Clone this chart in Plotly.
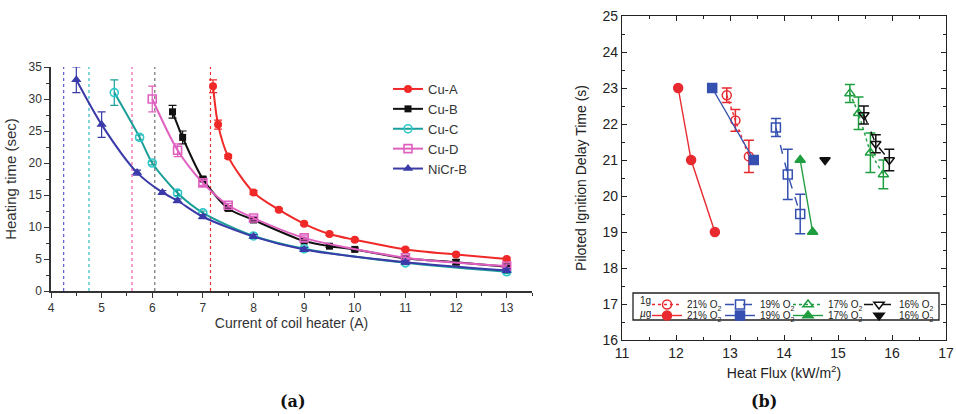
import plotly.graph_objects as go

# ---------------- Data: panel (a) ----------------
cuA_x = [7.2, 7.3, 7.5, 8, 8.5, 9, 9.5, 10, 11, 12, 13]
cuA_y = [32, 26, 21, 15.4, 12.7, 10.5, 8.9, 8.0, 6.5, 5.7, 5.0]
cuA_err = [1, 0.7, 0.3, 0.3, 0.2, 0.2, 0.2, 0.2, 0.2, 0.2, 0.2]

cuB_x = [6.4, 6.6, 7, 7.5, 8, 9, 9.5, 10, 11, 12, 13]
cuB_y = [28, 24, 17.5, 12.9, 11.1, 7.8, 7.0, 6.5, 5.1, 4.5, 3.8]
cuB_err = [1, 1, 0.3, 0.3, 0.3, 0.2, 0.2, 0.2, 0.2, 0.4, 0.2]

cuC_x = [5.25, 5.75, 6, 6.5, 7, 8, 9, 11, 13]
cuC_y = [31, 24, 20, 15.3, 12.2, 8.6, 6.6, 4.4, 3.0]
cuC_err = [2, 0.4, 0.3, 0.4, 0.3, 0.3, 0.3, 0.3, 0.3]

cuD_x = [6, 6.5, 7, 7.5, 8, 9, 11, 13]
cuD_y = [30, 22, 16.9, 13.4, 11.4, 8.3, 5.2, 3.9]
cuD_err = [2, 1, 0.4, 0.3, 0.3, 0.3, 0.3, 0.3]

nicr_x = [4.5, 5, 5.7, 6.2, 6.5, 7, 8, 9, 11, 13]
nicr_y = [33, 26, 18.5, 15.4, 14.1, 11.6, 8.5, 6.5, 4.5, 3.2]
nicr_err = [2, 2, 0.4, 0.3, 0.3, 0.3, 0.3, 0.3, 0.3, 0.3]

threshold_currents = [4.25, 4.75, 5.6, 6.05, 7.15]
threshold_colors = ["#5a5ad0", "#30c0c0", "#f060b0", "#707070", "#f03030"]

# ---------------- Data: panel (b) ----------------
g1_21_x = [12.94, 13.1, 13.35]
g1_21_y = [22.8, 22.1, 21.1]
g1_21_e = [0.2, 0.3, 0.45]

g1_19_x = [13.85, 14.07, 14.3]
g1_19_y = [21.9, 20.6, 19.5]
g1_19_e = [0.25, 0.7, 0.55]

g1_17_x = [15.22, 15.38, 15.6, 15.84]
g1_17_y = [22.85, 22.3, 21.2, 20.6]
g1_17_e = [0.25, 0.45, 0.55, 0.4]

g1_16_x = [15.48, 15.7, 15.95]
g1_16_y = [22.25, 21.45, 21.0]
g1_16_e = [0.25, 0.25, 0.3]

ug_21_x = [12.04, 12.28, 12.72]
ug_21_y = [23, 21, 19]

ug_19_x = [12.67, 13.44]
ug_19_y = [23, 21]
ug_19_xe = [0.07, 0]

ug_17_x = [14.3, 14.53]
ug_17_y = [21, 19]

ug_16_x = [14.76]
ug_16_y = [21]

FONT = "Arial, Liberation Sans, sans-serif"
W, H = 956, 414

fig = go.Figure()

# panel (a) threshold dotted lines
for xv, c in zip(threshold_currents, threshold_colors):
    fig.add_trace(go.Scatter(x=[xv, xv], y=[0, 35], mode="lines",
                             line=dict(color=c, width=1.2, dash="dot"),
                             showlegend=False, hoverinfo="skip",
                             xaxis="x", yaxis="y"))

series_a = [
    ("Cu-A", cuA_x, cuA_y, cuA_err, "#f02828", dict(symbol="circle", color="#f02828", size=8)),
    ("Cu-B", cuB_x, cuB_y, cuB_err, "#111111", dict(symbol="square", color="#111111", size=7)),
    ("Cu-C", cuC_x, cuC_y, cuC_err, "#1a9e98", dict(symbol="circle-open", color="#30c8c8", size=8, line=dict(width=1.6))),
    ("Cu-D", cuD_x, cuD_y, cuD_err, "#e060c0", dict(symbol="square-open", color="#e060c0", size=8, line=dict(width=1.6))),
    ("NiCr-B", nicr_x, nicr_y, nicr_err, "#3a3aa8", dict(symbol="triangle-up", color="#3a3aa8", size=9)),
]
for name, xs, ys, es, col, mk in series_a:
    fig.add_trace(go.Scatter(x=xs, y=ys, name=name, mode="lines+markers",
                             line=dict(color=col, width=2, shape="spline", smoothing=0.8),
                             marker=mk,
                             error_y=dict(type="data", array=es, visible=True, color=col,
                                          thickness=1.2, width=4),
                             legend="legend", xaxis="x", yaxis="y"))

# panel (b)
def add_b(xs, ys, col, sym, dash, name, legend, err=None, xerr=None, width=1.4, mode="lines+markers"):
    tr = dict(x=xs, y=ys, name=name, mode=mode,
              line=dict(color=col, width=width, dash=dash),
              marker=dict(symbol=sym, color=col, size=9, line=dict(width=1.5, color=col)),
              legend=legend, xaxis="x2", yaxis="y2")
    if err is not None:
        tr["error_y"] = dict(type="data", array=err, visible=True, color=col, thickness=1.5, width=5)
    if xerr is not None:
        tr["error_x"] = dict(type="data", array=xerr, visible=True, color=col, thickness=1.5, width=4)
    fig.add_trace(go.Scatter(**tr))

lab21 = "21% O<sub>2</sub>"
lab19 = "19% O<sub>2</sub>"
lab17 = "17% O<sub>2</sub>"
lab16 = "16% O<sub>2</sub>"

add_b(g1_21_x, g1_21_y, "#e82a30", "circle-open", "dot", lab21, "legend2", err=g1_21_e)
add_b(g1_19_x, g1_19_y, "#3550b0", "square-open", "dash", lab19, "legend3", err=g1_19_e)
add_b(g1_17_x, g1_17_y, "#1f9e40", "triangle-up-open", "dot", lab17, "legend4", err=g1_17_e)
add_b(g1_16_x, g1_16_y, "#111111", "triangle-down-open", "dash", lab16, "legend5", err=g1_16_e)

add_b(ug_21_x, ug_21_y, "#e82a30", "circle", "solid", lab21, "legend6")
add_b(ug_19_x, ug_19_y, "#3550b0", "square", "solid", lab19, "legend7", xerr=ug_19_xe)
add_b(ug_17_x, ug_17_y, "#1f9e40", "triangle-up", "solid", lab17, "legend8")
add_b(ug_16_x, ug_16_y, "#111111", "triangle-down", "solid", lab16, "legend9", mode="markers")

axis_a = dict(showline=True, linecolor="#333", linewidth=1.5, ticks="outside",
              tickcolor="#333", ticklen=5, tickwidth=1.3, showgrid=False, zeroline=False,
              automargin=False,
              tickfont=dict(family=FONT, size=12, color="#333"))
axis_b = dict(showline=True, linecolor="#222", linewidth=1.3, ticks="inside", mirror="allticks",
              tickcolor="#222", ticklen=5, tickwidth=1.1, showgrid=False, zeroline=False,
              automargin=False,
              tickfont=dict(family=FONT, size=14, color="#222"))

leg_b = dict(xanchor="left", yanchor="top",
             bgcolor="rgba(0,0,0,0)", borderwidth=0, itemwidth=30,
             font=dict(family=FONT, size=10, color="#222"))

col_x = [647, 720, 788, 859]
row_y = [290, 301]
legends = {}
k = 2
for r in row_y:
    for cx in col_x:
        legends["legend%d" % k] = dict(leg_b, x=cx / W, y=1 - r / H)
        k += 1

fig.update_layout(
    width=W, height=H, margin=dict(l=0, r=0, t=0, b=0, autoexpand=False),
    paper_bgcolor="white", plot_bgcolor="white",
    font=dict(family=FONT, color="#222"),
    xaxis=dict(axis_a, domain=[51 / W, 532 / W], range=[4, 13.5], dtick=1, tick0=4,
               minor=dict(dtick=0.5, ticks="outside", ticklen=3, tickcolor="#333"),
               title=dict(text="Current of coil heater (A)", font=dict(size=14, color="#333"), standoff=4),
               anchor="y"),
    yaxis=dict(axis_a, domain=[1 - 291 / H, 1 - 67 / H], range=[0, 35], dtick=5,
               minor=dict(dtick=2.5, ticks="outside", ticklen=3, tickcolor="#333"),
               title=dict(text="Heating time (sec)", font=dict(size=15, color="#333"), standoff=8),
               anchor="x"),
    xaxis2=dict(axis_b, domain=[622 / W, 946 / W], range=[11, 17], dtick=1,
                minor=dict(dtick=0.5, ticks="inside", ticklen=3, tickcolor="#222"),
                title=dict(text="Heat Flux (kW/m<sup>2</sup>)", font=dict(size=14, color="#222"), standoff=8),
                anchor="y2"),
    yaxis2=dict(axis_b, domain=[1 - 340 / H, 1 - 16 / H], range=[16, 25], dtick=1,
                minor=dict(dtick=0.5, ticks="inside", ticklen=3, tickcolor="#222"),
                title=dict(text="Piloted Ignition Delay Time (s)", font=dict(size=14, color="#222"), standoff=12),
                anchor="x2"),
    legend=dict(x=388 / W, y=1 - 74 / H, xanchor="left", yanchor="top",
                bgcolor="rgba(0,0,0,0)", borderwidth=0, itemwidth=30,
                font=dict(family=FONT, size=13, color="#333"), tracegroupgap=0),
    **legends,
    shapes=[dict(type="rect", xref="paper", yref="paper",
                 x0=633 / W, x1=939 / W, y0=1 - 320 / H, y1=1 - 293 / H,
                 line=dict(color="#222", width=1.3))],
    annotations=[
        dict(text="1g", x=653 / W, y=1 - 300 / H, xref="paper", yref="paper", showarrow=False,
             xanchor="right", yanchor="middle", font=dict(size=10, color="#222")),
        dict(text="<i>µ</i>g", x=653 / W, y=1 - 313 / H, xref="paper", yref="paper", showarrow=False,
             xanchor="right", yanchor="middle", font=dict(size=10, color="#222")),
        dict(text="<b>(a)</b>", x=293 / W, y=1 - 401 / H, xref="paper", yref="paper", showarrow=False,
             xanchor="center", yanchor="middle",
             font=dict(family="DejaVu Serif, Liberation Serif, serif", size=16, color="#111")),
        dict(text="<b>(b)</b>", x=764 / W, y=1 - 401 / H, xref="paper", yref="paper", showarrow=False,
             xanchor="center", yanchor="middle",
             font=dict(family="DejaVu Serif, Liberation Serif, serif", size=16, color="#111")),
    ],
)

fig.write_html("out.html")
